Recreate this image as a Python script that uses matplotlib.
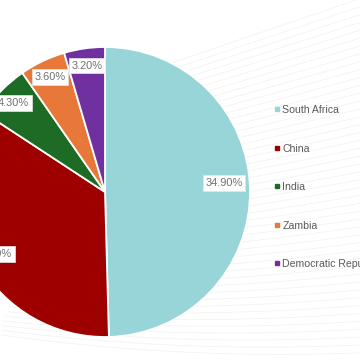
import matplotlib
matplotlib.use('Agg')
import matplotlib.pyplot as plt
import numpy as np
from matplotlib.lines import Line2D

plt.rcParams['font.family'] = ['Liberation Sans', 'DejaVu Sans']

countries = ['South Africa', 'China', 'India', 'Zambia', 'Democratic Republic of the Congo']
shares = [34.90, 24.40, 4.30, 3.60, 3.20]
colors = ['#98d5d9', '#9e0000', '#1d6b24', '#e8783a', '#7030a0']

fig = plt.figure(figsize=(3.6, 3.6), dpi=100)

# faint background swooshes
bg = fig.add_axes([0, 0, 1, 1], zorder=0)
bg.set_xlim(0, 360)
bg.set_ylim(360, 0)
bg.axis('off')
xs = np.linspace(0, 360, 200)
for t in np.linspace(0, 1, 46):
    x0 = 170 * (1 - t) ** 1.5
    xx = xs[xs >= x0]
    slope = 0.30 * (1 - t) + 0.04
    base = 60 + 300 * t
    yy = base - slope * (xx - 180) - 0.00025 * (xx - 360) ** 2 * t
    bg.plot(xx, yy, color='#f1f1f1', lw=0.5)

# pie
ax = fig.add_axes([-40 / 360, 23 / 360, 290 / 360, 290 / 360], zorder=1)
wedges, _ = ax.pie(shares, colors=colors, startangle=90, counterclock=False,
                   radius=1, wedgeprops=dict(edgecolor='white', linewidth=1.3))
ax.set_xlim(-1, 1)
ax.set_ylim(-1, 1)
ax.set_aspect('equal')

for w, v in zip(wedges, shares):
    ang = np.deg2rad((w.theta1 + w.theta2) / 2)
    r = 0.82 if v > 30 else 0.88
    ax.text(r * np.cos(ang), r * np.sin(ang) + (0.05 if v > 30 else 0), f'{v:.2f}%',
            ha='center', va='center', fontsize=7.9, color='#707070',
            bbox=dict(boxstyle='square,pad=0.25', fc='white', ec='#e6e6e6', lw=0.5))

handles = [Line2D([], [], marker='s', ls='', color=c, markersize=2.8) for c in colors]
fig.legend(handles, countries, loc='upper left', bbox_to_anchor=(274 / 360, 1 - 105 / 360),
           frameon=False, fontsize=7.6, labelcolor='#5a5a5a', handlelength=0.5,
           handletextpad=0.3, labelspacing=2.7, borderaxespad=0, borderpad=0)

fig.savefig('out.png', dpi=100)
